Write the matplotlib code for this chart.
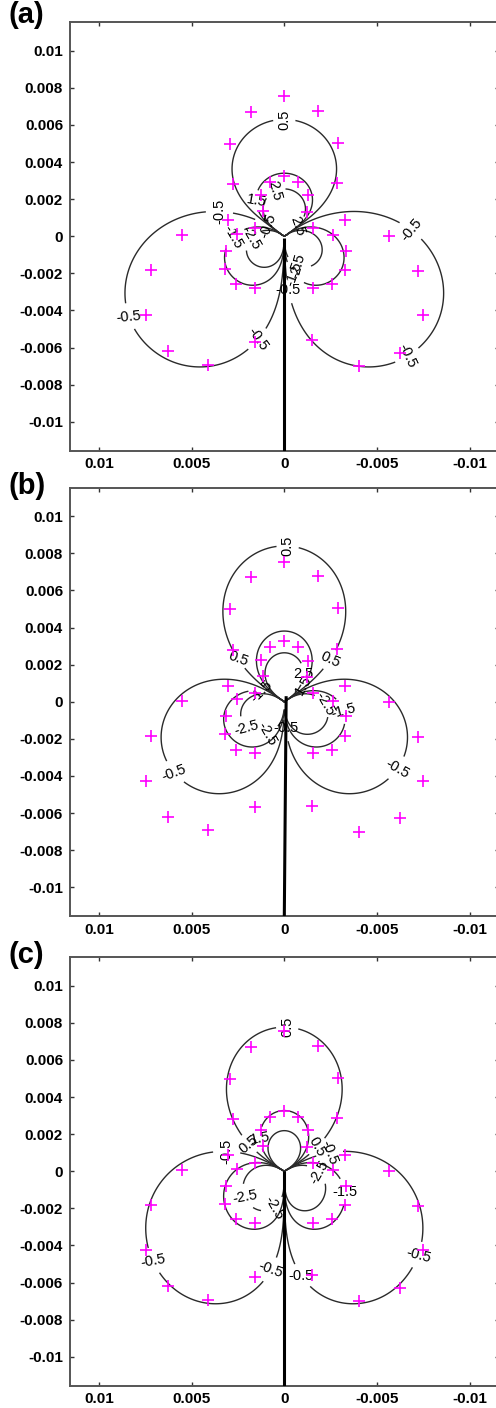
import numpy as np
import matplotlib
matplotlib.use("Agg")
import matplotlib.pyplot as plt

plt.rcParams['font.family'] = ['Liberation Sans', 'DejaVu Sans']

# ---------------- data ----------------
panel_names = ["(a)", "(b)", "(c)"]
contour_levels = [-2.5, -1.5, -0.5, 0.5, 1.5, 2.5]

# sensor positions (magenta +), identical in the three panels
sensor_x = [0.0, 0.0018, -0.0018, 0.0029, -0.0029, 0.00275, -0.00285, 0.0, 0.00077, -0.00075,
            0.00126, -0.00129, 0.00113, -0.00124, 0.00305, -0.00327, 0.00158, -0.00156,
            0.00253, -0.00264, 0.00553, -0.00564, 0.00314, -0.0033, 0.00318, -0.00327,
            0.00718, -0.00718, 0.0026, -0.00258, 0.00158, -0.00156, 0.00747, -0.00748,
            0.00625, -0.00623, 0.00409, -0.00402, 0.00158, -0.00151]
sensor_y = [0.00756, 0.00671, 0.00676, 0.0050, 0.00505, 0.00281, 0.00286, 0.00327, 0.00293, 0.00293,
            0.00225, 0.00221, 0.00137, 0.00131, 0.00086, 0.00086, 0.00045, 0.00045,
            0.00014, 0.00005, 0.00005, 0.0, -0.00079, -0.00079, -0.00176, -0.00183,
            -0.00183, -0.00189, -0.00259, -0.00259, -0.00277, -0.00277, -0.00426, -0.00426,
            -0.00619, -0.00628, -0.00693, -0.0070, -0.0057, -0.00561]

# lobe model of the mapped field for each panel:
# direction (deg, as seen on the plot), reach of the |0.5| contour, sign,
# half-width / exponent on the clockwise and counter-clockwise side, radial decay
lobe_angle = [[90, 213, 327], [90, 207, 333], [90, 224, 316]]
lobe_reach = [[0.0063, 0.0095, 0.0095], [0.0084, 0.0071, 0.0071], [0.00777, 0.0087, 0.0087]]
lobe_sign = [[1, -1, -1], [1, -1, -1], [1, -1, -1]]
lobe_hw_cw = [[55, 70, 56], [56, 62, 63], [60, 75, 46]]
lobe_p_cw = [[0.42, 0.9, 0.5], [0.64, 0.7, 0.6], [0.72, 0.7, 0.36]]
lobe_hw_ccw = [[55, 56, 70], [56, 63, 62], [60, 46, 75]]
lobe_p_ccw = [[0.42, 0.5, 0.9], [0.64, 0.6, 0.7], [0.72, 0.36, 0.7]]
lobe_decay = [[1.78, 1.12, 1.12], [1.39, 1.55, 1.55], [1.27, 1.33, 1.33]]

# conductor (thick vertical line)
wire_x = [[0.0, 0.0], [-0.0001, 0.0], [0.0, 0.0]]
wire_y = [[-0.0001, -0.0116], [0.0003, -0.0116], [0.0, -0.0116]]

# contour label positions and their printed rotation
label_x = [
    [0.0, 0.0013, 0.0005, 0.0035, 0.0028, 0.0018, 0.0009, -0.0006, -0.0067, 0.0083, 0.0015, -0.0066, -0.00085, -0.00067, -0.0002],
    [-0.0002, 0.00248, -0.00255, -0.0009, -0.0010, 0.0012, 0.002, 0.00095, -0.0031, -0.0019, 0.0058, -0.0061, -0.0001],
    [-0.00016, 0.0031, 0.0021, 0.0014, -0.0016, -0.0024, -0.0019, -0.0032, 0.0019, 0.0006, 0.0068, -0.0069, 0.0004, -0.0007],
]
label_y = [
    [0.0064, 0.0019, 0.0024, 0.0012, 0.0, -0.0001, 0.0006, 0.0007, 0.00016, -0.0043, -0.0055, -0.0064, -0.0013, -0.0019, -0.0029],
    [0.0087, 0.0023, 0.0022, 0.0015, 0.0009, 0.0006, -0.0014, -0.0017, -0.0005, -0.0003, -0.0037, -0.0036, -0.0014],
    [0.0078, 0.0012, 0.0013, 0.0018, 0.0015, 0.0012, 0.0, -0.0011, -0.0013, -0.0019, -0.0047, -0.0044, -0.0055, -0.0058],
]
label_rot = [
    [90, -10, -75, 90, -60, -60, 70, -70, 50, 5, -55, -65, 75, 70, 0],
    [90, -20, -25, 0, 60, 45, 15, -60, 15, -60, 20, -30, 0],
    [90, 90, 40, 10, -60, -70, 60, 0, 10, -60, 10, -15, -20, 0],
]

xticks = [0.01, 0.005, 0.0, -0.005, -0.01]
yticks = [0.01, 0.008, 0.006, 0.004, 0.002, 0.0, -0.002, -0.004, -0.006, -0.008, -0.01]
lim = 0.01155

# ---------------- figure ----------------
W, H = 496, 1408
fig = plt.figure(figsize=(W / 100, H / 100), dpi=100)

axes_top_px = [22, 487.5, 957]
axes_h_px = 428.5
left_px, width_px = 70, 428.6
title_top_px = [1, 472, 941]

n = 700
g = np.linspace(-lim, lim, n) + 1e-7
X, Y = np.meshgrid(g, g)
R = np.hypot(X, Y)
TH = np.degrees(np.arctan2(Y, -X))  # angle as displayed (x axis is reversed)


def field(i):
    F = np.zeros_like(X)
    for j in range(len(lobe_angle[i])):
        psi = (TH - lobe_angle[i][j] + 180) % 360 - 180
        h = np.where(psi < 0, lobe_hw_cw[i][j], lobe_hw_ccw[i][j])
        p = np.where(psi < 0, lobe_p_cw[i][j], lobe_p_ccw[i][j])
        a = np.clip(psi / h, -1, 1) * np.pi / 2
        S = np.clip(np.cos(a), 0, None) ** p
        F += lobe_sign[i][j] * 0.5 * (lobe_reach[i][j] * S / R) ** lobe_decay[i][j]
    return np.clip(F, -50, 50)


for i in range(3):
    bottom = 1 - (axes_top_px[i] + axes_h_px) / H
    ax = fig.add_axes([left_px / W, bottom, width_px / W, axes_h_px / H])
    F = field(i)
    cs = ax.contour(X, Y, F, levels=contour_levels, colors='#2a2a2a', linewidths=1.0,
                    linestyles='solid')
    pos = list(zip(label_x[i], label_y[i]))
    ax.set_xlim(lim, -lim)
    ax.set_ylim(-lim, lim)
    ax.clabel(cs, inline=True, manual=pos, fmt='%g', fontsize=10.5, inline_spacing=1)
    for t, r in zip(cs.labelTexts, label_rot[i]):
        t.set_rotation(r)
        t.set_color('black')
    ax.plot(wire_x[i], wire_y[i], color='black', lw=2.2, solid_capstyle='butt', zorder=3)
    ax.plot(sensor_x, sensor_y, linestyle='none', marker='+', color='#ff00ff',
            markersize=9, markeredgewidth=1.2, zorder=4)
    ax.set_xticks(xticks)
    ax.set_yticks(yticks)
    ax.set_xticklabels(['%g' % v for v in xticks], fontweight='bold', fontsize=11)
    ax.set_yticklabels(['%g' % v for v in yticks], fontweight='bold', fontsize=11)
    ax.tick_params(direction='in', length=3, width=1, top=True, right=True, pad=5, colors='#333333')
    ax.tick_params(labelcolor='black')
    for s in ax.spines.values():
        s.set_color('#555555')
        s.set_linewidth(1.4)
    fig.text(8 / W, 1 - title_top_px[i] / H, panel_names[i], fontsize=21, fontweight='bold',
             va='top', ha='left')

fig.savefig('out.png', dpi=100)
